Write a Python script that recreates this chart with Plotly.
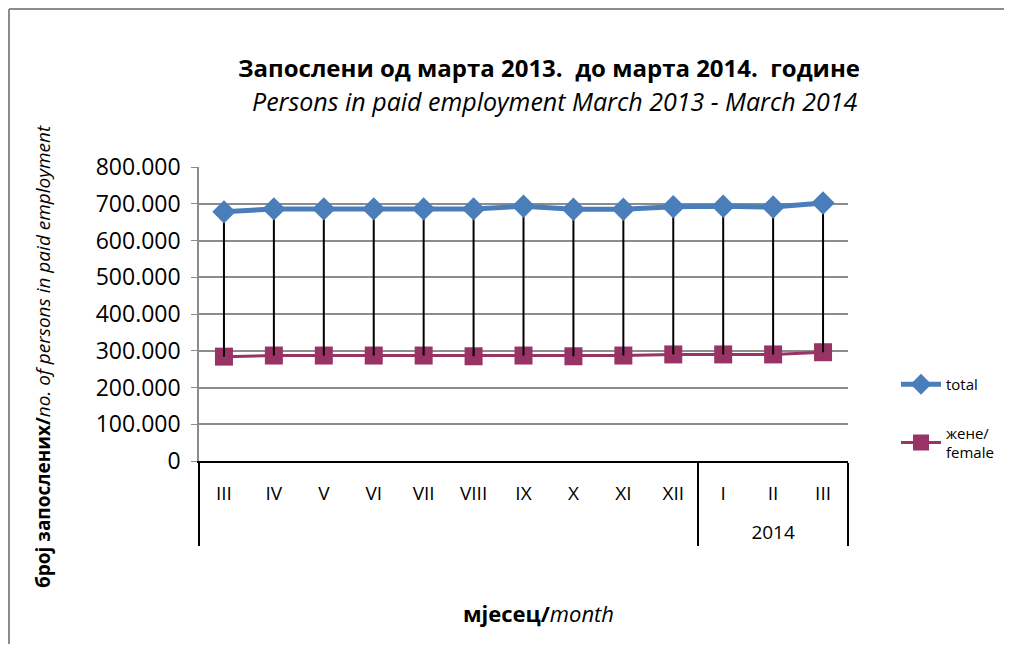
import plotly.graph_objects as go

months = ["III", "IV", "V", "VI", "VII", "VIII", "IX", "X", "XI", "XII", "I", "II", "III"]
years = [" "] * 10 + ["2014"] * 3
total = [678000, 686000, 686000, 686000, 686000, 686000, 693000, 685000, 685000, 692000, 693000, 691000, 702000]
female = [284000, 287000, 287000, 287000, 287000, 285000, 287000, 285000, 287000, 290000, 290000, 290000, 296000]
y_ticks = [0, 100000, 200000, 300000, 400000, 500000, 600000, 700000, 800000]
y_tick_text = ["0", "100.000", "200.000", "300.000", "400.000", "500.000", "600.000", "700.000", "800.000"]

OFF = 8  # default page body margin
W, H = 1012 - 2 * OFF, 652 - 2 * OFF
# plot area in window pixels
L, R, T, B = 199, 848, 167, 461

def px(xp):
    return (xp - L) / (R - L)

def py(yp):
    return (B - yp) / (B - T)

def cx(xp):
    return (xp - OFF) / W

def cy(yp):
    return 1 - (yp - OFF) / H

# unique child keys so repeated month names keep their order (zero-width suffix)
seen = {}
month_keys = []
for m in months:
    n = seen.get(m, 0)
    month_keys.append(m + "\u200b" * n)
    seen[m] = n + 1
year_keys = ["<br>" + y if y.strip() else y for y in years]

gap = [t - f for t, f in zip(total, female)]
zeros = [0] * len(total)

fig = go.Figure()
fig.add_trace(go.Scatter(
    x=[year_keys, month_keys], y=female, mode="lines+markers", name="жене/<br>female",
    legendgroup="f", legendrank=2,
    line=dict(color="#993366", width=3),
    marker=dict(symbol="square", size=18, color="#993366")))
fig.add_trace(go.Scatter(
    x=[year_keys, month_keys], y=total, mode="lines+markers", name="total",
    legendgroup="t", legendrank=1,
    line=dict(color="#4A7EBB", width=5),
    marker=dict(symbol="diamond", size=18, color="#4A7EBB"),
    error_y=dict(type="data", symmetric=False, array=zeros, arrayminus=gap,
                 color="black", thickness=2, width=0)))

font_family = "Open Sans, Noto Sans, sans-serif"
border = dict(color="#8C8C8C", width=2)

fig.update_layout(
    width=W, height=H,
    margin=dict(l=L - OFF, r=W + OFF - R, t=T - OFF, b=H + OFF - B),
    paper_bgcolor="white", plot_bgcolor="white",
    font=dict(family=font_family, color="black"),
    showlegend=True,
    legend=dict(xref="container", yref="container", x=cx(896), y=cy(368),
                xanchor="left", yanchor="top",
                font=dict(size=15, family=font_family), itemwidth=40,
                tracegroupgap=26, bgcolor="rgba(0,0,0,0)"),
    xaxis=dict(
        type="multicategory", showgrid=False, range=[-0.5, len(months) - 0.5],
        showline=True, linecolor="black", linewidth=2,
        showdividers=True, dividercolor="black", dividerwidth=2,
        tickfont=dict(size=19, family=font_family), ticks="",
        ticklabelstandoff=14, automargin=False,
    ),
    yaxis=dict(
        range=[0, 800000], tickvals=y_ticks, ticktext=y_tick_text,
        showgrid=True, gridcolor="#8C8C8C", gridwidth=1.5,
        showline=True, linecolor="#8C8C8C", linewidth=1.5,
        ticks="outside", ticklen=6, tickcolor="#8C8C8C",
        tickfont=dict(size=23, family=font_family), zeroline=False,
        ticklabelstandoff=6, automargin=False,
    ),
    shapes=[
        dict(type="line", xref="paper", yref="paper",
             x0=px(9), x1=px(9), y0=py(9), y1=py(700), line=border, layer="below"),
        dict(type="line", xref="paper", yref="paper",
             x0=px(9), x1=px(1040), y0=py(9), y1=py(9), line=border, layer="below"),
    ],
    annotations=[
        dict(xref="paper", yref="paper", x=px(549), y=py(67), showarrow=False,
             text="<b>Запослени од марта 2013.  до марта 2014.  године</b>",
             font=dict(size=24, family=font_family), xanchor="center", yanchor="middle"),
        dict(xref="paper", yref="paper", x=px(555), y=py(101), showarrow=False,
             text="<i>Persons in paid employment March 2013 - March 2014</i>",
             font=dict(size=25, family=font_family), xanchor="center", yanchor="middle"),
        dict(xref="paper", yref="paper", x=px(43), y=py(357), showarrow=False,
             text="<b>број запослених/</b><i>no. of persons in paid employment</i>",
             textangle=-90, font=dict(size=19, family=font_family),
             xanchor="center", yanchor="middle"),
        dict(xref="paper", yref="paper", x=px(538), y=py(613), showarrow=False,
             text="<b>мјесец/</b><i>month</i>",
             font=dict(size=22, family=font_family), xanchor="center", yanchor="middle"),
    ],
)

fig.write_html("out.html")
